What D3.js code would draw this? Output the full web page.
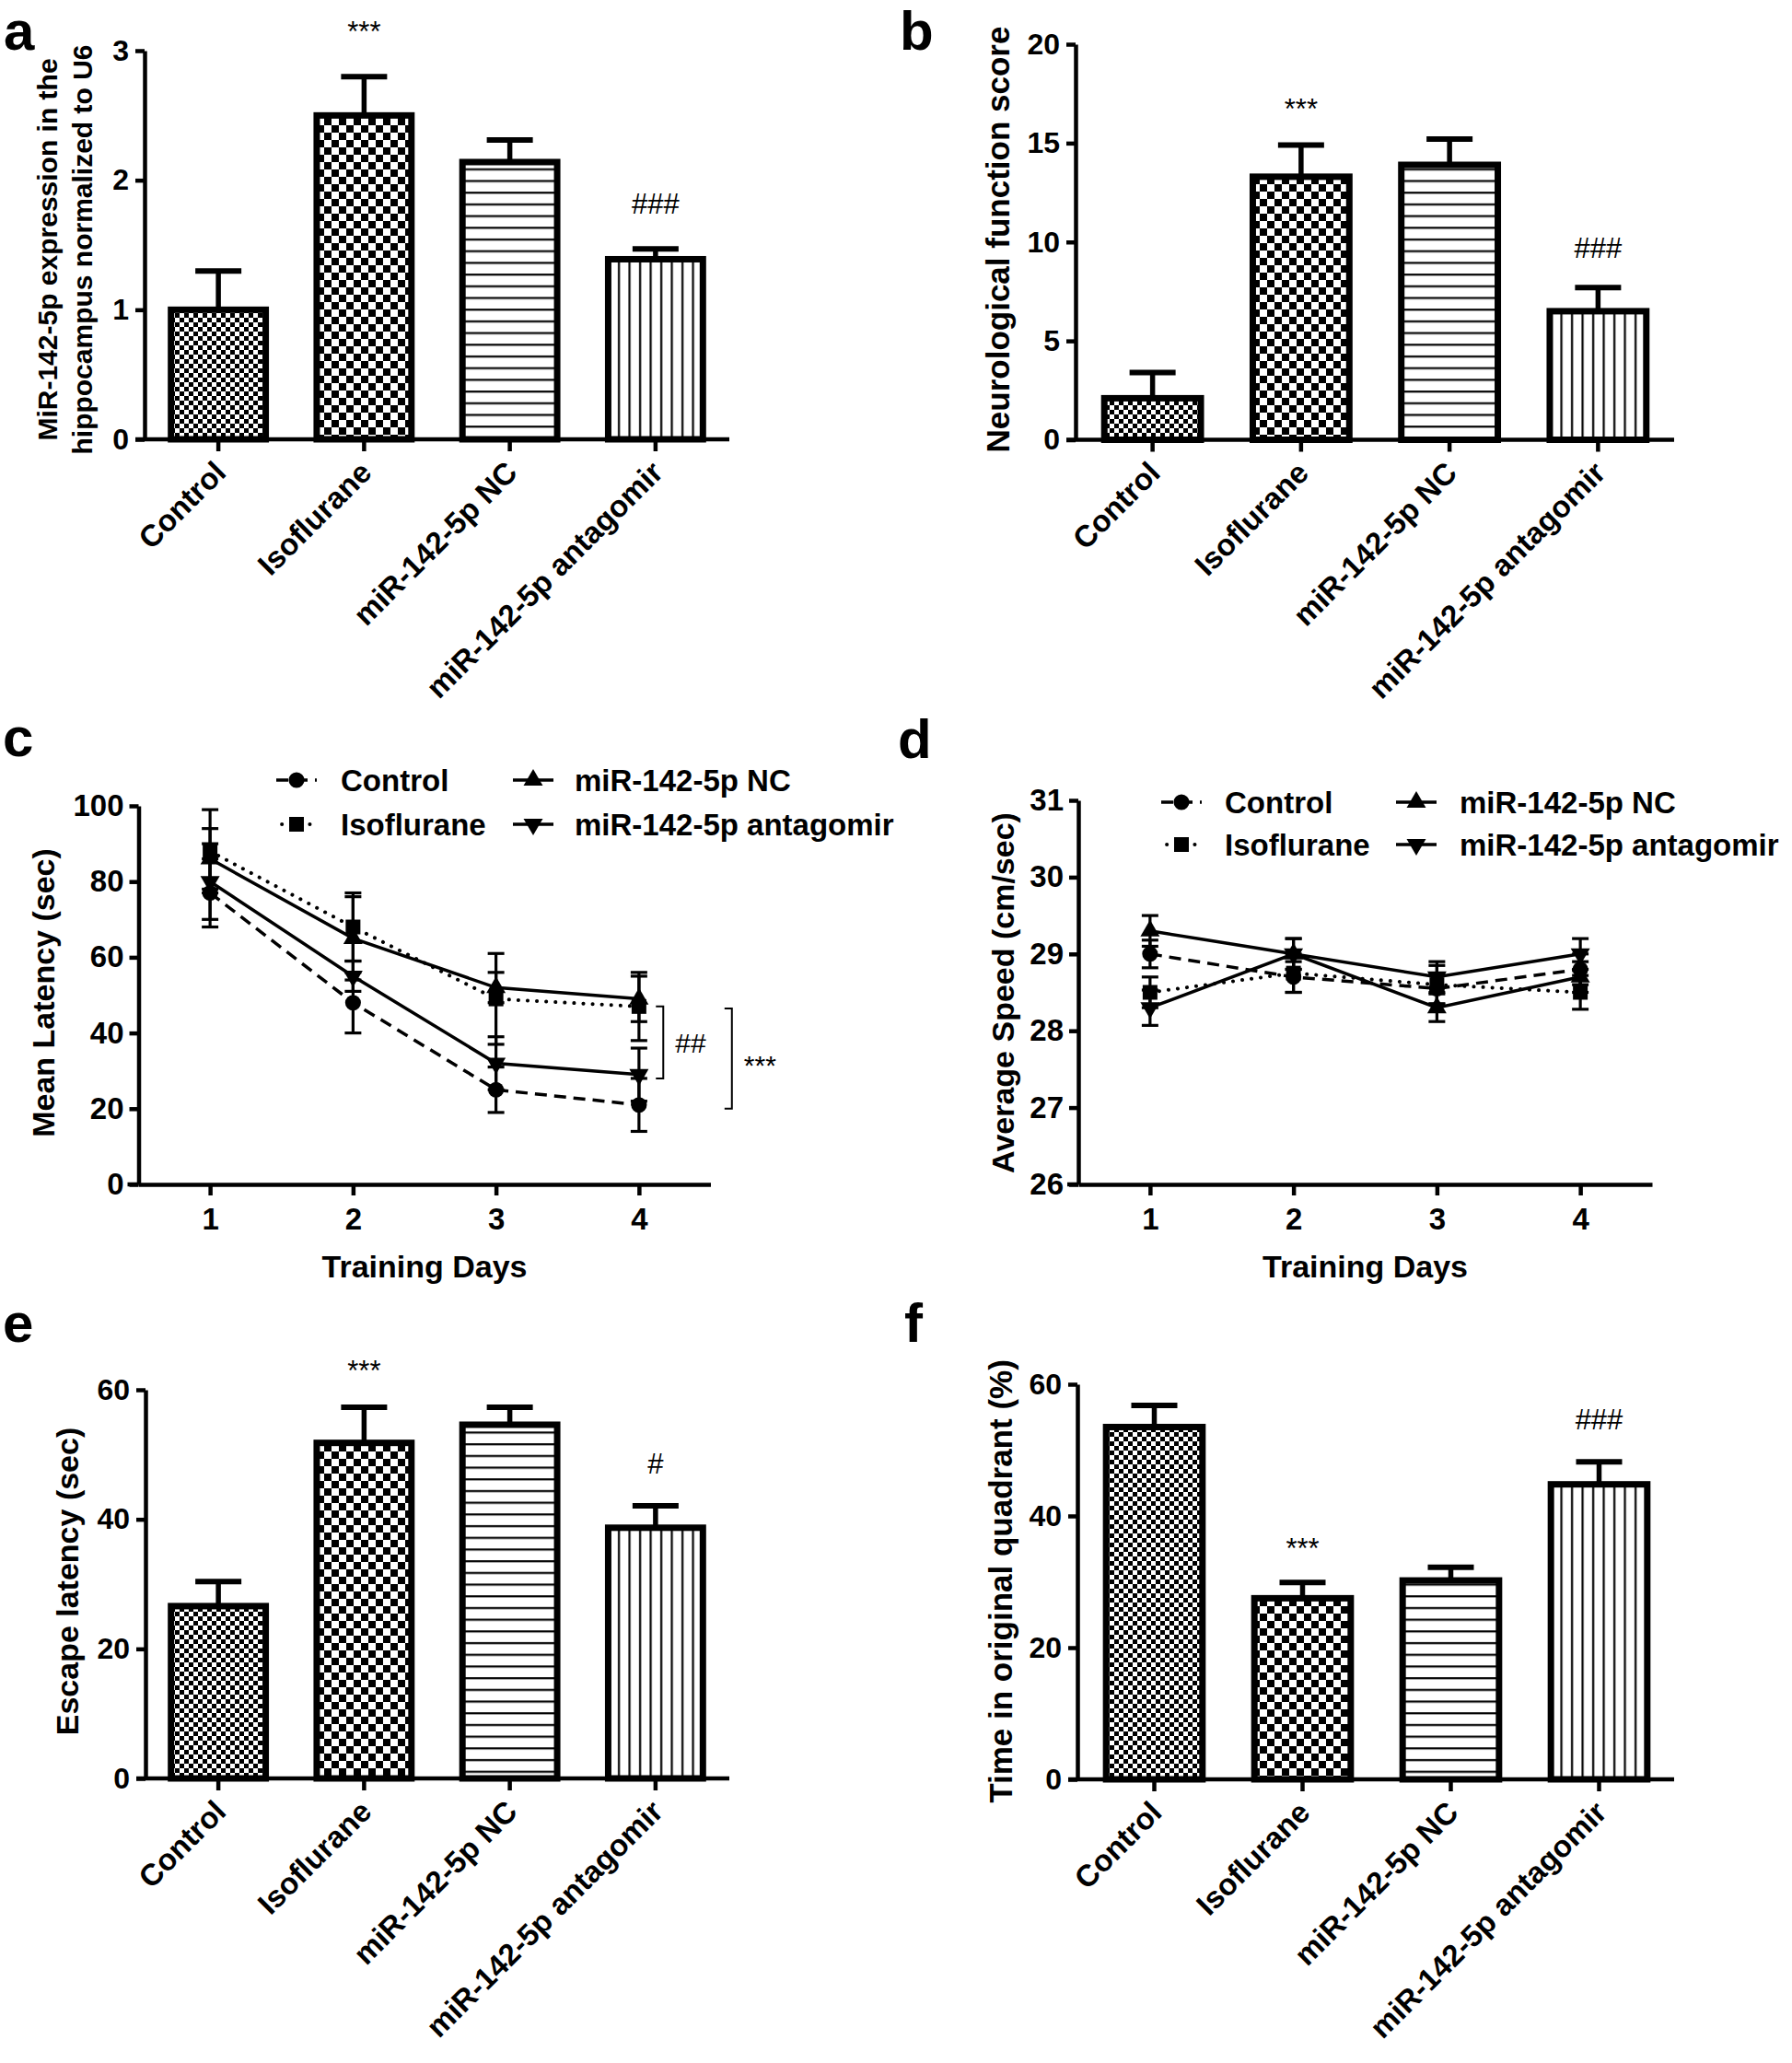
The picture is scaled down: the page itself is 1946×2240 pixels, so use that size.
<!DOCTYPE html>
<html><head><meta charset="utf-8">
<script src="https://cdn.jsdelivr.net/npm/d3@7"></script>
<style>
body{margin:0;background:#fff}
svg{display:block}
text{font-family:"Liberation Sans",Arial,Helvetica,sans-serif}
</style>
</head><body>
<svg id="chart" width="1946" height="2240"></svg>
<script>
// ---------------- DATA ----------------
const groups = ["Control", "Isoflurane", "miR-142-5p NC", "miR-142-5p antagomir"];

// panel a: MiR-142-5p expression
const aMean = [1.0, 2.5, 2.14, 1.39];
const aErr  = [0.3, 0.3, 0.17, 0.08];
const aTicks = [0, 1, 2, 3];
const aSig = ["", "***", "", "###"];
const aSigY = [null, 3.2, null, 1.82];

// panel b: neurological function score
const bMean = [2.1, 13.3, 13.9, 6.5];
const bErr  = [1.3, 1.6, 1.3, 1.2];
const bTicks = [0, 5, 10, 15, 20];
const bSig = ["", "***", "", "###"];
const bSigY = [null, 17.1, null, 9.7];

// panel e: escape latency
const eMean = [26.6, 51.8, 54.6, 38.7];
const eErr  = [3.8, 5.5, 2.7, 3.4];
const eTicks = [0, 20, 40, 60];
const eSig = ["", "***", "", "#"];
const eSigY = [null, 64.1, null, 48.6];

// panel f: time in original quadrant
const fMean = [53.5, 27.5, 30.2, 44.8];
const fErr  = [3.3, 2.4, 2.0, 3.4];
const fTicks = [0, 20, 40, 60];
const fSig = ["", "***", "", "###"];
const fSigY = [null, 36.1, null, 54.7];

// panels c & d: training days
const days = [1, 2, 3, 4];
const cMean = {
  "Control":              [77, 48, 25, 21],
  "Isoflurane":           [88, 68, 49, 47],
  "miR-142-5p NC":        [86, 65, 52, 49],
  "miR-142-5p antagomir": [80, 55, 32, 29]
};
const cErr = {
  "Control":              [9, 8, 6, 7],
  "Isoflurane":           [11, 9, 12, 9],
  "miR-142-5p NC":        [8, 11, 4, 6],
  "miR-142-5p antagomir": [10, 4, 7, 7]
};
const cTicks = [0, 20, 40, 60, 80, 100];
const cBrackets = [
  {x: 4.17, y0: 47, y1: 28, label: "##"},
  {x: 4.65, y0: 46.5, y1: 20, label: "***"}
];

const dMean = {
  "Control":              [29.0, 28.7, 28.55, 28.8],
  "Isoflurane":           [28.5, 28.75, 28.6, 28.5],
  "miR-142-5p NC":        [29.3, 29.0, 28.3, 28.7],
  "miR-142-5p antagomir": [28.3, 29.0, 28.7, 29.0]
};
const dErr = {
  "Control":              [0.18, 0.2, 0.2, 0.2],
  "Isoflurane":           [0.2, 0.25, 0.25, 0.22],
  "miR-142-5p NC":        [0.2, 0.2, 0.18, 0.2],
  "miR-142-5p antagomir": [0.23, 0.2, 0.2, 0.2]
};
const dTicks = [26, 27, 28, 29, 30, 31];

// ---------------- STYLE ----------------
const FONT = '"Liberation Sans", Arial, Helvetica, sans-serif';
const svg = d3.select("#chart");
const defs = svg.append("defs");
const patternIds = ["pFine", "pCoarse", "pHLines", "pVLines"];
const intFmt = d3.format("d");

function checker(id, s) {
  const p = defs.append("pattern").attr("id", id).attr("patternUnits", "userSpaceOnUse")
    .attr("width", 2 * s).attr("height", 2 * s);
  p.append("rect").attr("width", 2 * s).attr("height", 2 * s).attr("fill", "#fff");
  p.append("rect").attr("width", s).attr("height", s).attr("fill", "#000");
  p.append("rect").attr("x", s).attr("y", s).attr("width", s).attr("height", s).attr("fill", "#000");
}
checker("pFine", 5);
checker("pCoarse", 8);
{
  const p = defs.append("pattern").attr("id", "pHLines").attr("patternUnits", "userSpaceOnUse")
    .attr("width", 10).attr("height", 12.7);
  p.append("rect").attr("width", 10).attr("height", 12.7).attr("fill", "#fff");
  p.append("rect").attr("y", 5).attr("width", 10).attr("height", 2.2).attr("fill", "#000");
  const q = defs.append("pattern").attr("id", "pVLines").attr("patternUnits", "userSpaceOnUse")
    .attr("width", 11.5).attr("height", 10);
  q.append("rect").attr("width", 11.5).attr("height", 10).attr("fill", "#fff");
  q.append("rect").attr("x", 4).attr("width", 2.2).attr("height", 10).attr("fill", "#000");
}

function styleAxis(sel, fs) {
  sel.select(".domain").attr("stroke-width", 4.5).attr("stroke", "#000");
  sel.selectAll(".tick line").attr("stroke-width", 4.5).attr("stroke", "#000");
  sel.selectAll(".tick text").attr("font-size", fs).attr("font-weight", "bold")
    .attr("font-family", FONT).attr("fill", "#000");
}

function panelLabel(t, x, y) {
  svg.append("text").attr("x", x).attr("y", y).attr("font-size", 60).attr("font-weight", "bold")
    .attr("font-family", FONT).text(t);
}

function yTitle(lines, bx, cy, fs, gap) {
  lines.forEach((l, i) => {
    svg.append("text")
      .attr("transform", `translate(${bx + i * gap},${cy}) rotate(-90)`)
      .attr("text-anchor", "middle").attr("font-size", fs).attr("font-weight", "bold")
      .attr("font-family", FONT).text(l);
  });
}

function sigText(g, t, x, cy, fs) {
  const off = t.includes("*") ? 0.6 * fs : 0.36 * fs;
  g.append("text").attr("x", x).attr("y", cy + off).attr("text-anchor", "middle")
    .attr("font-size", fs).attr("font-family", FONT).text(t);
}

// ---------------- BAR PANELS ----------------
function barPanel(o) {
  const g = svg.append("g");
  const y = d3.scaleLinear().domain([0, o.yMax]).range(o.yRange);
  const x = d3.scaleBand().domain(groups).range(o.xRange).paddingInner(0.35).paddingOuter(0.175);
  const bw = x.bandwidth();
  const y0 = y(0);

  const eb = g.selectAll("g.err").data(groups).join("g");
  eb.append("line").attr("x1", d => x(d) + bw / 2).attr("x2", d => x(d) + bw / 2)
    .attr("y1", (d, i) => y(o.mean[i])).attr("y2", (d, i) => y(o.mean[i] + o.err[i]))
    .attr("stroke", "#000").attr("stroke-width", 5.5);
  eb.append("line").attr("x1", d => x(d) + bw / 2 - 25).attr("x2", d => x(d) + bw / 2 + 25)
    .attr("y1", (d, i) => y(o.mean[i] + o.err[i])).attr("y2", (d, i) => y(o.mean[i] + o.err[i]))
    .attr("stroke", "#000").attr("stroke-width", 6);

  g.selectAll("rect.bar").data(groups).join("rect").attr("class", "bar")
    .attr("x", d => x(d)).attr("width", bw)
    .attr("y", (d, i) => y(o.mean[i])).attr("height", (d, i) => y0 - y(o.mean[i]))
    .attr("fill", (d, i) => `url(#${patternIds[i]})`)
    .attr("stroke", "#000").attr("stroke-width", 7);

  const ya = g.append("g").attr("transform", `translate(${o.axisX},0)`)
    .call(d3.axisLeft(y).tickValues(o.ticks).tickSize(10).tickSizeOuter(0).tickPadding(7).tickFormat(intFmt));
  styleAxis(ya, 32);

  g.append("line").attr("x1", o.axisX - 10).attr("x2", o.xEnd).attr("y1", y0).attr("y2", y0)
    .attr("stroke", "#000").attr("stroke-width", 4.5);
  const xa = g.append("g").attr("transform", `translate(0,${y0})`)
    .call(d3.axisBottom(x).tickSize(13).tickSizeOuter(0).tickFormat(""));
  xa.select(".domain").remove();
  xa.selectAll(".tick line").attr("stroke", "#000").attr("stroke-width", 4.5);

  g.selectAll("text.cat").data(groups).join("text").attr("class", "cat")
    .attr("transform", d => `translate(${x(d) + bw / 2 + 10},${y0 + 38}) rotate(-45)`)
    .attr("text-anchor", "end").attr("font-size", 33).attr("font-weight", "bold")
    .attr("font-family", FONT).text(d => d);

  groups.forEach((d, i) => {
    if (o.sig[i]) sigText(g, o.sig[i], x(d) + bw / 2, y(o.sigY[i]), 31);
  });
}

barPanel({yMax: 3, yRange: [477, 55], xRange: [158, 791], axisX: 157, xEnd: 792,
  ticks: aTicks, mean: aMean, err: aErr, sig: aSig, sigY: aSigY});
barPanel({yMax: 20, yRange: [477.5, 48], xRange: [1171, 1816], axisX: 1168, xEnd: 1818,
  ticks: bTicks, mean: bMean, err: bErr, sig: bSig, sigY: bSigY});
barPanel({yMax: 60, yRange: [1931, 1509], xRange: [158, 791], axisX: 158, xEnd: 792,
  ticks: eTicks, mean: eMean, err: eErr, sig: eSig, sigY: eSigY});
barPanel({yMax: 60, yRange: [1932, 1503], xRange: [1173, 1817], axisX: 1170, xEnd: 1818,
  ticks: fTicks, mean: fMean, err: fErr, sig: fSig, sigY: fSigY});

// ---------------- LINE PANELS ----------------
const seriesStyle = {
  "Control":              {sym: d3.symbolCircle, size: 230, rot: 0, dash: "13,8", cap: "butt"},
  "Isoflurane":           {sym: d3.symbolSquare, size: 256, rot: 0, dash: "0.1,10", cap: "round"},
  "miR-142-5p NC":        {sym: d3.symbolTriangle, size: 190, rot: 0, dash: null, cap: "butt"},
  "miR-142-5p antagomir": {sym: d3.symbolTriangle, size: 190, rot: 180, dash: null, cap: "butt"}
};
const legendOrder = [["Control", 0, 0], ["Isoflurane", 0, 1], ["miR-142-5p NC", 1, 0], ["miR-142-5p antagomir", 1, 1]];

function linePanel(o) {
  const g = svg.append("g");
  const x = d3.scaleLinear().domain([0.5, 4.5]).range(o.xRange);
  const y = d3.scaleLinear().domain(o.yDomain).range(o.yRange);

  const ya = g.append("g").attr("transform", `translate(${o.xRange[0]},0)`)
    .call(d3.axisLeft(y).tickValues(o.ticks).tickSize(10).tickSizeOuter(0).tickPadding(6).tickFormat(intFmt));
  styleAxis(ya, 33);
  const xa = g.append("g").attr("transform", `translate(0,${o.yRange[0]})`)
    .call(d3.axisBottom(x).tickValues(days).tickSize(12).tickSizeOuter(0).tickPadding(14).tickFormat(intFmt));
  styleAxis(xa, 33);
  g.append("line").attr("x1", o.xRange[0] - 12).attr("x2", o.xRange[0])
    .attr("y1", o.yRange[0]).attr("y2", o.yRange[0]).attr("stroke", "#000").attr("stroke-width", 4.5);

  g.append("text").attr("x", (o.xRange[0] + o.xRange[1]) / 2).attr("y", o.yRange[0] + 101)
    .attr("text-anchor", "middle").attr("font-size", 34).attr("font-weight", "bold")
    .attr("font-family", FONT).text("Training Days");

  const line = d3.line().x((v, i) => x(days[i])).y(v => y(v));
  groups.forEach(s => {
    const st = seriesStyle[s];
    g.append("path").datum(o.mean[s]).attr("d", line).attr("fill", "none")
      .attr("stroke", "#000").attr("stroke-width", st.cap === "round" ? 4 : 3.5)
      .attr("stroke-dasharray", st.dash).attr("stroke-linecap", st.cap);
  });
  groups.forEach(s => {
    const m = o.mean[s], e = o.err[s];
    days.forEach((dd, i) => {
      const cx = x(dd);
      g.append("line").attr("x1", cx).attr("x2", cx).attr("y1", y(m[i] - e[i])).attr("y2", y(m[i] + e[i]))
        .attr("stroke", "#000").attr("stroke-width", 3.2);
      [m[i] - e[i], m[i] + e[i]].forEach(v => {
        g.append("line").attr("x1", cx - 9).attr("x2", cx + 9).attr("y1", y(v)).attr("y2", y(v))
          .attr("stroke", "#000").attr("stroke-width", 3.2);
      });
    });
  });
  groups.forEach(s => {
    const st = seriesStyle[s];
    g.selectAll(null).data(o.mean[s]).join("path")
      .attr("transform", (v, i) => `translate(${x(days[i])},${y(v)}) rotate(${st.rot})`)
      .attr("d", d3.symbol().type(st.sym).size(st.size)).attr("fill", "#000");
  });

  legendOrder.forEach(([s, col, row]) => {
    const st = seriesStyle[s];
    const mx = o.legMarkX[col], my = o.legRowY[row];
    g.append("line").attr("x1", mx - 22).attr("x2", mx + 22).attr("y1", my).attr("y2", my)
      .attr("stroke", "#000").attr("stroke-width", st.cap === "round" ? 4 : 3.5)
      .attr("stroke-dasharray", st.dash).attr("stroke-linecap", st.cap)
      .attr("stroke-dashoffset", st.dash ? (s === "Control" ? 0 : 4) : null);
    g.append("path").attr("transform", `translate(${mx},${my}) rotate(${st.rot})`)
      .attr("d", d3.symbol().type(st.sym).size(st.size)).attr("fill", "#000");
    g.append("text").attr("x", o.legTextX[col]).attr("y", my + 12).attr("font-size", 33)
      .attr("font-weight", "bold").attr("font-family", FONT).text(s);
  });

  (o.brackets || []).forEach(b => {
    const bx = x(b.x);
    g.append("path").attr("d", `M${bx - 8},${y(b.y0)}H${bx}V${y(b.y1)}H${bx - 8}`)
      .attr("fill", "none").attr("stroke", "#000").attr("stroke-width", 2);
    const cy = (y(b.y0) + y(b.y1)) / 2;
    const fs = 30;
    g.append("text").attr("x", bx + 13).attr("y", cy + (b.label.includes("*") ? 0.6 * fs : 0.36 * fs))
      .attr("font-size", fs).attr("font-family", FONT).text(b.label);
  });
}

linePanel({xRange: [150.5, 771.5], yDomain: [0, 100], yRange: [1286, 875], ticks: cTicks,
  mean: cMean, err: cErr, legMarkX: [322, 579], legTextX: [370, 624], legRowY: [847, 895],
  brackets: cBrackets});
linePanel({xRange: [1171, 1794], yDomain: [26, 31], yRange: [1286, 869], ticks: dTicks,
  mean: dMean, err: dErr, legMarkX: [1283, 1538], legTextX: [1330, 1585], legRowY: [871, 917]});

// ---------------- TITLES & LABELS ----------------
yTitle(["MiR-142-5p expression in the", "hippocampus normalized to U6"], 62, 271, 30, 38);
yTitle(["Neurological function score"], 1096, 260, 35, 0);
yTitle(["Mean Latency (sec)"], 59, 1078, 34, 0);
yTitle(["Average Speed (cm/sec)"], 1101, 1078, 34, 0);
yTitle(["Escape latency (sec)"], 85, 1717, 34, 0);
yTitle(["Time in original quadrant (%)"], 1099, 1717, 35, 0);

panelLabel("a", 4, 54);
panelLabel("b", 977, 54);
panelLabel("c", 3, 821);
panelLabel("d", 975, 823);
panelLabel("e", 3, 1457);
panelLabel("f", 982, 1457);
</script>
</body></html>
